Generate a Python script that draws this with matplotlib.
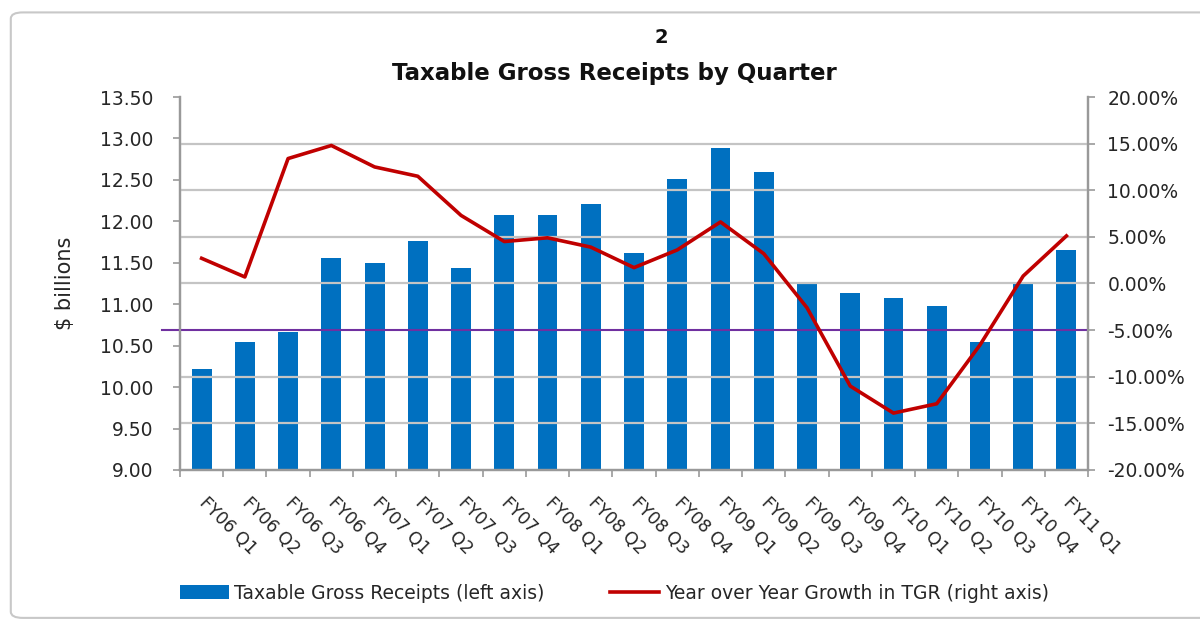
import numpy as np
import matplotlib
matplotlib.use("Agg")
import matplotlib.pyplot as plt
from matplotlib.patches import FancyBboxPatch, Patch
from matplotlib.lines import Line2D
from matplotlib.ticker import FuncFormatter

plt.rcParams['font.family'] = ['DejaVu Sans']

quarters = ['FY06 Q1', 'FY06 Q2', 'FY06 Q3', 'FY06 Q4',
            'FY07 Q1', 'FY07 Q2', 'FY07 Q3', 'FY07 Q4',
            'FY08 Q1', 'FY08 Q2', 'FY08 Q3', 'FY08 Q4',
            'FY09 Q1', 'FY09 Q2', 'FY09 Q3', 'FY09 Q4',
            'FY10 Q1', 'FY10 Q2', 'FY10 Q3', 'FY10 Q4',
            'FY11 Q1']
tgr = [10.22, 10.54, 10.66, 11.56, 11.50, 11.76, 11.44, 12.08,
       12.08, 12.21, 11.62, 12.51, 12.89, 12.59, 11.27, 11.14,
       11.08, 10.98, 10.54, 11.24, 11.66]
growth = [2.7, 0.7, 13.4, 14.8, 12.5, 11.5, 7.3, 4.5,
          4.9, 3.9, 1.7, 3.6, 6.6, 3.2, -2.6, -11.0,
          -13.9, -12.9, -6.6, 0.8, 5.1]
left_ticks = [9.0, 9.5, 10.0, 10.5, 11.0, 11.5, 12.0, 12.5, 13.0, 13.5]
right_ticks = [-20, -15, -10, -5, 0, 5, 10, 15, 20]

grey = '#999999'
txt = '#262626'

fig = plt.figure(figsize=(12, 6.21), dpi=100)
ax = fig.add_axes([0.15, 0.2432, 0.7567, 0.6006])
ax2 = ax.twinx()

# frame around the chart
fig.patches.append(FancyBboxPatch((0.009, 0.005), 1.2, 0.975, boxstyle='round,pad=0,rounding_size=0.01',
                                  transform=fig.transFigure, fill=False, edgecolor='#c8c8c8', lw=1.5))

x = np.arange(len(quarters))
ax2.set_ylim(-20, 20)
ax2.set_yticks(right_ticks)
ax2.yaxis.set_major_formatter(FuncFormatter(lambda v, p: '%.2f%%' % v))
for t in right_ticks[1:-1]:
    if t != -5:
        ax2.axhline(t, color='#c4c4c4', lw=1.6, zorder=0)
ax2.axhline(-5, xmin=-0.02, xmax=1.0, color='#7030A0', lw=1.5, clip_on=False, zorder=1)

ax.bar(x, tgr, width=0.46, color='#0070C0', zorder=2)
ax.set_ylim(9, 13.5)
ax.set_yticks(left_ticks)
ax.yaxis.set_major_formatter(FuncFormatter(lambda v, p: '%.2f' % v))
ax.set_xlim(-0.5, len(quarters) - 0.5)
ax.set_xticks(np.arange(-0.5, len(quarters)), minor=False)
ax.set_xticklabels([])
ax.set_xticks(x, minor=True)
ax.set_xticklabels(quarters, minor=True, rotation=-45, ha='left', va='center',
                   rotation_mode='anchor', fontsize=12.5, color=txt)
ax.tick_params(axis='x', which='minor', length=0, pad=22)
ax.tick_params(axis='x', which='major', length=5, color=grey, width=1.2)
ax.tick_params(axis='y', length=5, color=grey, width=1.2, labelsize=13.5, labelcolor=txt, pad=14)
ax2.tick_params(axis='y', length=5, color=grey, width=1.2, labelsize=13.5, labelcolor=txt, pad=9)

ax2.plot(x, growth, color='#C00000', lw=2.6, zorder=3)

ax.set_zorder(ax2.get_zorder() - 1)
ax2.patch.set_visible(False)
ax.patch.set_visible(True)

for a in (ax, ax2):
    a.spines['top'].set_visible(False)
    for s in ('left', 'right', 'bottom'):
        a.spines[s].set_color(grey)
        a.spines[s].set_linewidth(1.6)

ax.set_ylabel('$ billions', fontsize=15, color=txt, labelpad=18)
fig.text(0.512, 0.882, 'Taxable Gross Receipts by Quarter', ha='center', va='center',
         fontsize=16.5, fontweight='bold', color='#111111')
fig.text(0.551, 0.94, '2', ha='center', va='center', fontsize=14, fontweight='bold', color='#111111')

handles = [Patch(facecolor='#0070C0', edgecolor='none'),
           Line2D([0], [0], color='#C00000', lw=2.6)]
fig.legend(handles, ['Taxable Gross Receipts (left axis)', 'Year over Year Growth in TGR (right axis)'],
           loc='center', bbox_to_anchor=(0.512, 0.045), ncol=2, frameon=False, fontsize=13.5,
           handlelength=2.6, columnspacing=3.5, handletextpad=0.3, labelcolor=txt)

fig.savefig('out.png', dpi=100)
